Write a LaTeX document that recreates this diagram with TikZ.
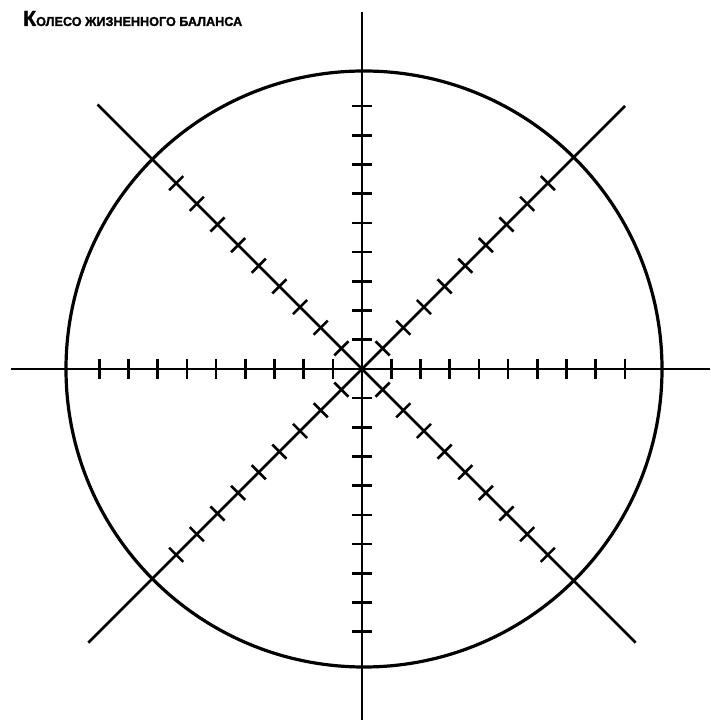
\documentclass[tikz,border=0pt]{standalone}
\usepackage{fontspec}
\setmainfont{Liberation Sans}
\newfontfamily\titlefont{Liberation Sans}[BoldFeatures={FakeBold=1.6}]
\usetikzlibrary{calc}
\begin{document}
\begin{tikzpicture}[x=1pt,y=1pt,
  axis/.style={line width=2.6pt,line cap=butt},
  rim/.style={line width=3.2pt},
  tickmark/.style={line width=2.6pt}]
\useasboundingbox (0,0) rectangle (710,720);
\coordinate (c) at (362,351);
% title
\node[anchor=base west,inner sep=0pt] (title) at (23,694)
  {\resizebox{219pt}{15pt}{\titlefont\bfseries\fontsize{21}{21}\selectfont К\fontsize{12.5}{12.5}\selectfont ОЛЕСО ЖИЗНЕННОГО БАЛАНСА}};
% circle
\draw[rim] (364,351) circle (298);
% axes
\draw[axis] (362,708) -- (362,0);
\draw[axis] (11,351) -- (710,351);
\draw[axis] ($(c)+(135:374)$) -- ($(c)+(315:387)$);
\draw[axis] ($(c)+(45:372)$) -- ($(c)+(225:387)$);
% ticks
\foreach \a in {0,45,...,315}{
  \foreach \k in {1,...,9}{
    \draw[tickmark] ($(c)+(\a:{29.2*\k})+(\a+90:10)$) -- ($(c)+(\a:{29.2*\k})+(\a-90:10)$);
  }
}
\end{tikzpicture}
\end{document}
